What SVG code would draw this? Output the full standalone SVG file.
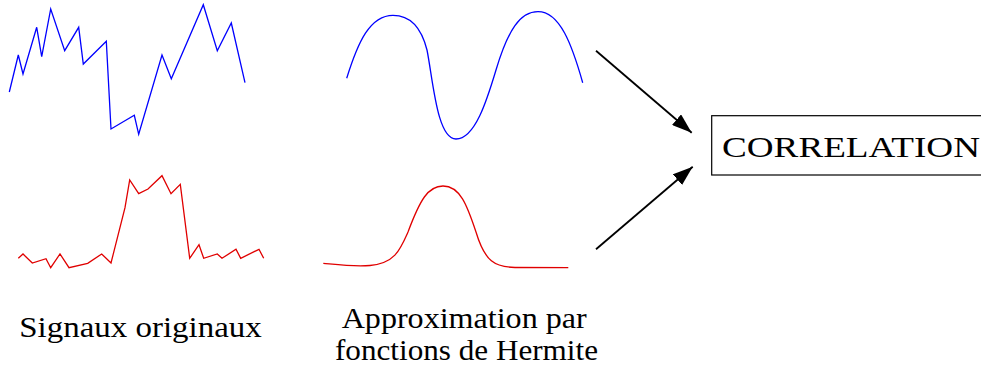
<svg xmlns="http://www.w3.org/2000/svg" width="981" height="374" viewBox="0 0 981 374">
<style>
.sig{fill:none;stroke-width:1.3;stroke-linejoin:miter}
.blue{stroke:#0000ff}
.red{stroke:#e00000}
.conn{stroke:#000;stroke-width:1.8;fill:none}
.lbl{font-family:'Liberation Serif',serif;font-size:30px;fill:#000}
</style>
<defs>
<marker id="ah" viewBox="0 0 20 14" refX="20" refY="7" markerWidth="20" markerHeight="14" markerUnits="userSpaceOnUse" orient="auto">
<path d="M0,0 L20,7 L0,14 z" fill="#000"/>
</marker>
</defs>
<g id="signal-blue">
<polyline class="sig blue" points="9.3,92 18.3,55 23,74 36.7,27.3 41.7,56.7 50.7,9 64.7,50.7 78.7,27.3 83.3,64 106.3,41.3 111,129 134.3,115.3 138.7,134.3 162,55 171.3,78.7 203.3,4.7 217.3,50.7 231.3,23 245,82.7"/>
</g>
<g id="signal-red">
<polyline class="sig red" points="18.3,258.3 23,254 32.3,263 46,258.7 50.7,267.7 60,254 69,267.7 87.7,263.3 101.7,254 111,263 125,207.7 129.7,180 138.7,193.7 148,189 162,175.7 171,193.7 180.3,184.3 189.7,258.3 199,244.7 203.7,258.3 217.3,254 222,258.3 236,249.3 240.7,258.3 259,249.3 263.7,258.3"/>
</g>
<g id="hermite-blue">
<path class="sig blue" d="M346.7,78.3 C358,42 370,15.3 393,15.3 C409,15.3 421,26 427,50 C433,80 437,139 456,139 C475,139 487,100 496,70 C508,30 520,11.7 538,11.7 C560,11.7 572,45 582.7,82.7"/>
</g>
<g id="hermite-red">
<path class="sig red" d="M323.3,263.3 C340,265 355,267 370,265.5 C395,263 400,250 408,232 C420,200 428,186 443,186 C460,186 467,205 476,232 C485,262 495,267 515,267.5 L568.3,267.7"/>
</g>
<g id="correlation">
<rect x="711.7" y="115.7" width="300" height="59.3" fill="#fff" stroke="#000" stroke-width="1.2"/>
<text class="lbl" x="722" y="156.7" textLength="258" lengthAdjust="spacingAndGlyphs">CORRELATION</text>
</g>
<g id="label-signaux">
<text class="lbl" x="19.3" y="336.7" textLength="242.4" lengthAdjust="spacingAndGlyphs">Signaux originaux</text>
</g>
<g id="label-hermite">
<text class="lbl" x="341.7" y="328.3" textLength="245" lengthAdjust="spacingAndGlyphs">Approximation par</text>
<text class="lbl" x="335" y="360" textLength="263" lengthAdjust="spacingAndGlyphs">fonctions de Hermite</text>
</g>
<g id="connectors">
<line class="conn" x1="596" y1="50.7" x2="691.7" y2="132.7" marker-end="url(#ah)"/>
<line class="conn" x1="596" y1="249.3" x2="692.7" y2="166.7" marker-end="url(#ah)"/>
</g>
</svg>
